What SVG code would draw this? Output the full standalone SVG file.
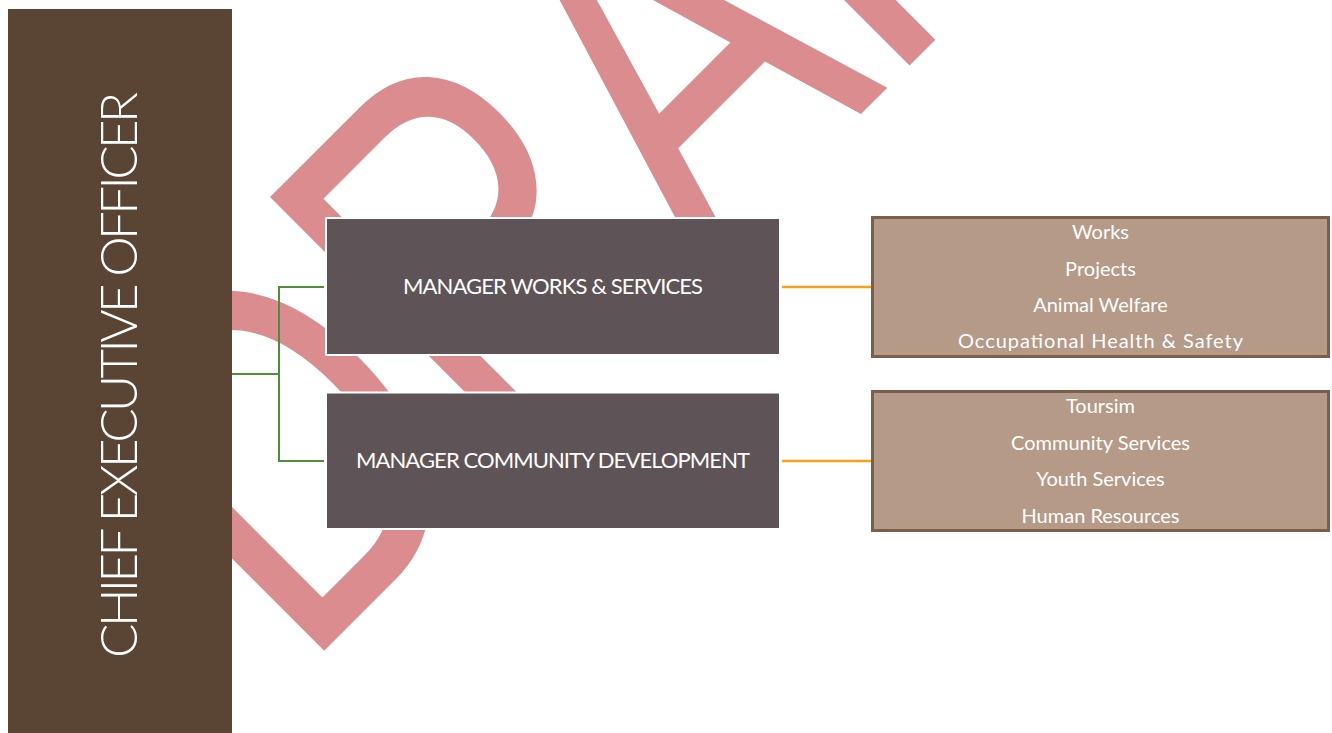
<svg xmlns="http://www.w3.org/2000/svg" width="1332" height="733" viewBox="0 0 1332 733">
  <style>
    .wm { fill: #DA8C8F; font-family: "Liberation Sans", Arial, sans-serif; font-size: 522px; }
    .ceo { fill: #5A4535; }
    .mgr { fill: #5E5458; stroke: #FFFFFF; stroke-width: 2; }
    .dept { fill: #B59A88; stroke: #7B5E4C; stroke-width: 3; }
    .t { fill: #FFFFFF; font-family: Lato, "Open Sans", sans-serif; text-anchor: middle; }
    .tceo { font-size: 51px; font-weight: 300; }
    .tmgr { font-size: 22px; }
    .tdept { font-size: 20px; }
    .green { stroke: #4F8F3A; stroke-width: 2; fill: none; }
    .orange { stroke: #F5A11E; stroke-width: 2.3; fill: none; }
  </style>
  <rect width="1332" height="733" fill="#FFFFFF"/>
  <g id="watermark">
    <text class="wm" transform="translate(322.7,652.3) rotate(-45) scale(0.75,1)" x="-40 336.7 717.5 1063.7" y="0">DRAFT</text>
  </g>
  <g id="connectors">
    <polyline class="green" points="232,374 279,374"/>
    <polyline class="green" points="324,287 279,287 279,461 324,461"/>
    <line class="orange" x1="782" y1="287" x2="872" y2="287"/>
    <line class="orange" x1="782" y1="461" x2="872" y2="461"/>
  </g>
  <g id="ceo">
    <rect class="ceo" x="8" y="9" width="224" height="730"/>
    <text class="t tceo" transform="translate(137,375) rotate(-90)" x="0" y="0" textLength="566">CHIEF EXECUTIVE OFFICER</text>
  </g>
  <g id="mgr-works">
    <rect class="mgr" x="326" y="218" width="454" height="137"/>
    <text class="t tmgr" x="553" y="294" textLength="300">MANAGER WORKS &amp; SERVICES</text>
  </g>
  <g id="mgr-community">
    <rect class="mgr" x="326" y="392.5" width="454" height="136.5"/>
    <text class="t tmgr" x="553" y="467.5" textLength="394">MANAGER COMMUNITY DEVELOPMENT</text>
  </g>
  <g id="dept-works">
    <rect class="dept" x="872.5" y="217.5" width="456" height="139"/>
    <text class="t tdept" x="1100.5" y="239.3">Works</text>
    <text class="t tdept" x="1100.5" y="275.7">Projects</text>
    <text class="t tdept" x="1100.5" y="311.7">Animal Welfare</text>
    <text class="t tdept" x="1100.5" y="348.3" textLength="285">Occupational Health &amp; Safety</text>
  </g>
  <g id="dept-community">
    <rect class="dept" x="872.5" y="391.5" width="456" height="139"/>
    <text class="t tdept" x="1100.5" y="412.7">Toursim</text>
    <text class="t tdept" x="1100.5" y="450">Community Services</text>
    <text class="t tdept" x="1100.5" y="486">Youth Services</text>
    <text class="t tdept" x="1100.5" y="523.3">Human Resources</text>
  </g>
</svg>
